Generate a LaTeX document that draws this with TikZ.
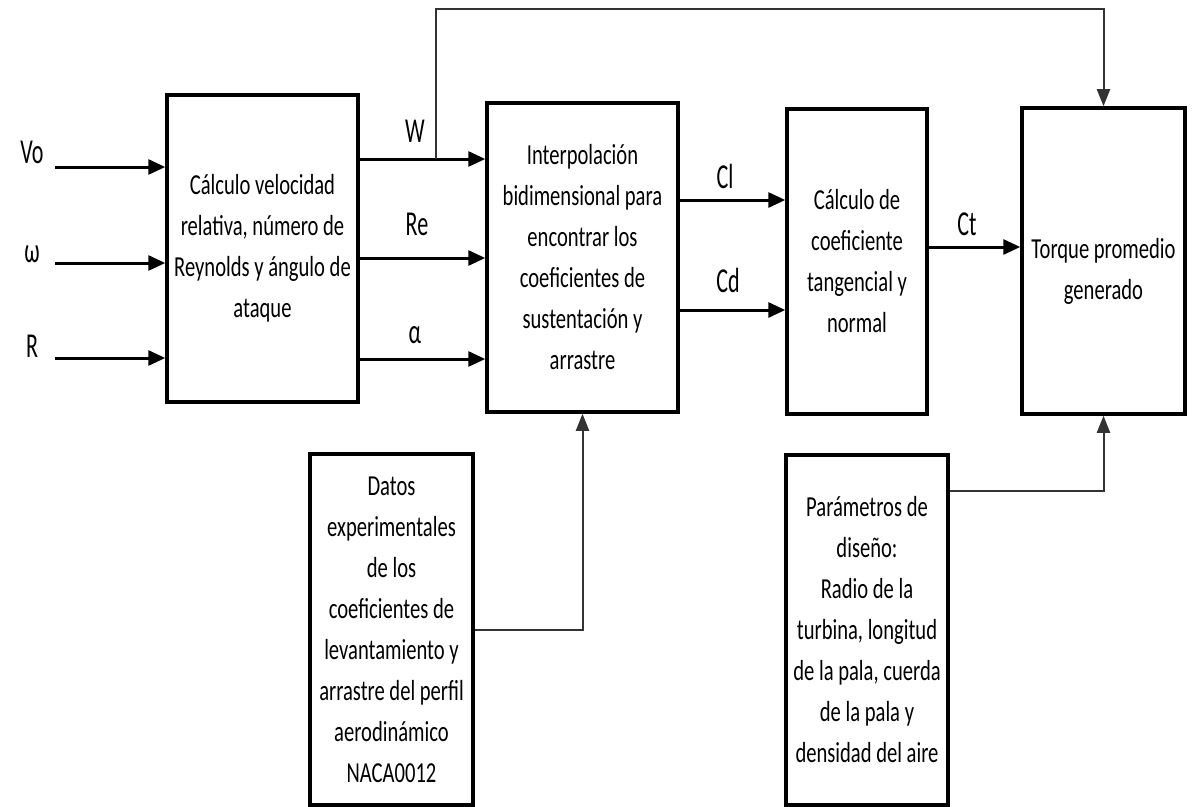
\documentclass[tikz,border=0pt]{standalone}
\usepackage{fontspec}
\setmainfont[FakeStretch=0.71]{Carlito}
\newfontfamily\labfont[FakeStretch=0.63]{Carlito}
\usetikzlibrary{arrows.meta}

\tikzset{
  bloque/.style={draw, line width=3.5bp, inner sep=0pt, align=center,
    font=\fontsize{29bp}{41bp}\selectfont, text=black},
  flecha/.style={line width=3bp, -{Triangle[length=17bp,width=15bp]}},
  linea/.style={line width=2bp, black!80, -{Triangle[length=17bp,width=13bp]}},
  etiqueta/.style={font=\labfont\fontsize{35bp}{40bp}\selectfont, anchor=base,
    inner sep=0pt, text=black}
}

\begin{document}
\begin{tikzpicture}[x=1bp, y=-1bp]
  \useasboundingbox (0,0) rectangle (1195,807);
  \begin{scope}
    % bloques
    \node[bloque, minimum width=191bp, minimum height=307bp] (b1) at (262.5,248.5)
      {Cálculo velocidad\\relativa, número de\\Reynolds y ángulo de\\ataque};
    \node[bloque, minimum width=191bp, minimum height=309bp] (b2) at (582.5,257.5)
      {Interpolación\\bidimensional para\\encontrar los\\coeficientes de\\sustentación y\\arrastre};
    \node[bloque, minimum width=140bp, minimum height=305bp] (b3) at (857,261.5)
      {Cálculo de\\coeficiente\\tangencial y\\normal};
    \node[bloque, minimum width=163bp, minimum height=306bp] (b4) at (1103.5,261)
      {\mbox{}\\Torque promedio\\generado};
    \node[bloque, minimum width=163bp, minimum height=351bp] (b5) at (391.5,629.5)
      {Datos\\experimentales\\de los\\coeficientes de\\levantamiento y\\arrastre del perfil\\aerodinámico\\NACA0012};
    \node[bloque, minimum width=162bp, minimum height=350bp] (b6) at (867,630)
      {Parámetros de\\diseño:\\Radio de la\\turbina, longitud\\de la pala, cuerda\\de la pala y\\densidad del aire};

    % entradas
    \coordinate (vo) at (55,167);
    \coordinate (om) at (55,263);
    \coordinate (r) at (55,358);
    \node[etiqueta] (lvo) at (32,163) {Vo};
    \node[etiqueta] (lom) at (32,262) {ω};
    \node[etiqueta] (lr) at (32,357) {R};
    \draw[flecha] (vo) -- (vo -| b1.west);
    \draw[flecha] (om) -- (om -| b1.west);
    \draw[flecha] (r) -- (r -| b1.west);

    % salidas del bloque 1
    \coordinate (w) at (436,159);
    \coordinate (re) at (436,258);
    \coordinate (al) at (436,359);
    \node[etiqueta] (lw) at (415,142) {W};
    \node[etiqueta] (lre) at (417,235) {Re};
    \node[etiqueta] (lal) at (415,343) {α};
    \draw[flecha] (b1.east |- w) -- (b2.west |- w);
    \draw[flecha] (b1.east |- re) -- (b2.west |- re);
    \draw[flecha] (b1.east |- al) -- (b2.west |- al);

    % coeficientes
    \coordinate (cl) at (730,200);
    \coordinate (cd) at (730,310);
    \coordinate (ct) at (970,247);
    \node[etiqueta] (lcl) at (725,188) {Cl};
    \node[etiqueta] (lcd) at (728,292) {Cd};
    \node[etiqueta] (lct) at (967,235) {Ct};
    \draw[flecha] (b2.east |- cl) -- (b3.west |- cl);
    \draw[flecha] (b2.east |- cd) -- (b3.west |- cd);
    \draw[flecha] (b3.east |- ct) -- (b4.west |- ct);

    % realimentacion y datos
    \coordinate (arriba) at (436,9);
    \draw[linea] (w) -- (arriba) -| (b4.north);
    \draw[linea] (b5.east) -| (b2.south);
    \draw[linea] ([yshift=-38bp]b6.north east) -| (b4.south);
  \end{scope}
\end{tikzpicture}
\end{document}
